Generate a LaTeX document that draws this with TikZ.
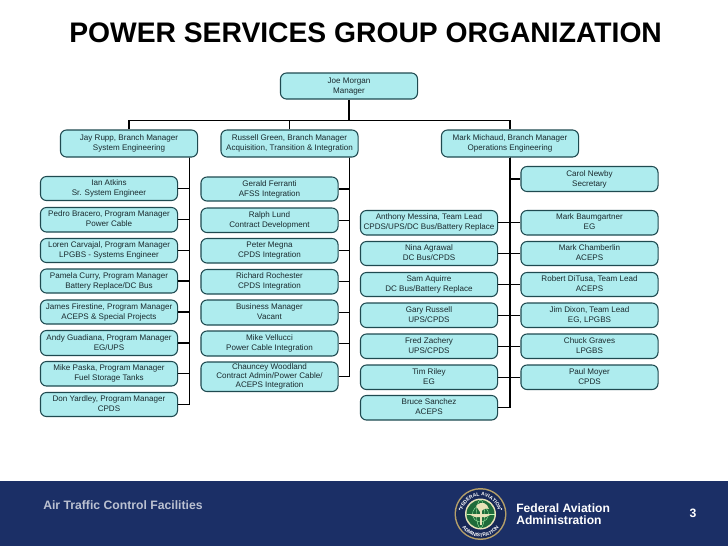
\documentclass[tikz,border=0pt]{standalone}
\usepackage{fontspec}
\setmainfont{Liberation Sans}
\usetikzlibrary{decorations.text}
\definecolor{boxfill}{HTML}{AEECEE}
\definecolor{boxedge}{HTML}{1F4A50}
\definecolor{navy}{HTML}{1B2F66}
\definecolor{inktext}{HTML}{1A2A2E}
\definecolor{sealgold}{HTML}{B5A06A}
\definecolor{sealgreen}{HTML}{1F6B3A}
\definecolor{sealpale}{HTML}{E8E2B8}
\tikzset{
  x=0.75pt,y=-0.75pt,
  orgbox/.style={draw=boxedge,fill=boxfill,line width=0.8pt,rounded corners=4.5pt,
    minimum width=102.8pt,inner sep=0pt,align=center,text=inktext,
    font=\fontsize{6.05}{7.5}\selectfont},
  link/.style={draw=black,line width=0.95pt},
  foot/.style={font=\bfseries\fontsize{9.15}{9}\selectfont,text=white,align=left,anchor=west,inner sep=0pt},
}
% \obox{name}{center x}{top y}{bottom y}{text}
\newcommand{\obox}[5]{\node[orgbox,minimum height={(#4-#3)*0.75pt}] (#1) at (#2,{(#3+#4)/2}) {\raisebox{-0.4pt}{\begin{tabular}{@{}c@{}}#5\end{tabular}}};}
\renewcommand{\arraystretch}{1}
\begin{document}
\begin{tikzpicture}
\useasboundingbox (0,0) rectangle (728,546);
\fill[white] (0,0) rectangle (728,546);
\fill[navy] (0,481) rectangle (728,546);
\node[inner sep=0pt,font=\bfseries\fontsize{21.2}{23}\selectfont,text=black,anchor=west] (title) at (69,33) {POWER SERVICES GROUP ORGANIZATION};

\coordinate (spa) at (189.5,0);
\coordinate (spb) at (349.5,0);
\coordinate (spc) at (510,0);
\coordinate (bus) at (0,120.5);

\obox{joe}{349}{73}{99}{Joe Morgan\\Manager}
\obox{jay}{129}{130}{157}{Jay Rupp, Branch Manager\\System Engineering}
\obox{russell}{289.5}{130}{157}{Russell Green, Branch Manager\\Acquisition, Transition \& Integration}
\obox{mark}{510}{130}{157}{Mark Michaud, Branch Manager\\Operations Engineering}

\obox{ian}{109}{176.5}{200.5}{Ian Atkins\\Sr. System Engineer}
\obox{pedro}{109}{207.5}{232}{Pedro Bracero, Program Manager\\Power Cable}
\obox{loren}{109}{238.5}{262.5}{Loren Carvajal, Program Manager\\LPGBS - Systems Engineer}
\obox{pamela}{109}{269}{293}{Pamela Curry, Program Manager\\Battery Replace/DC Bus}
\obox{james}{109}{300}{324}{James Firestine, Program Manager\\ACEPS \& Special Projects}
\obox{andy}{109}{330.5}{355.5}{Andy Guadiana, Program Manager\\EG/UPS}
\obox{paska}{109}{361.5}{386}{Mike Paska, Program Manager\\Fuel Storage Tanks}
\obox{don}{109}{392.5}{416.5}{Don Yardley, Program Manager\\CPDS}

\obox{gerald}{269.5}{177}{201}{Gerald Ferranti\\AFSS Integration}
\obox{ralph}{269.5}{208}{232.5}{Ralph Lund\\Contract Development}
\obox{peter}{269.5}{238.5}{263}{Peter Megna\\CPDS Integration}
\obox{richard}{269.5}{269.5}{294}{Richard Rochester\\CPDS Integration}
\obox{business}{269.5}{300}{325}{Business Manager\\Vacant}
\obox{vellucci}{269.5}{331}{356}{Mike Vellucci\\Power Cable Integration}
\obox{chauncey}{269.5}{362}{391.5}{Chauncey Woodland\\[-0.75pt]Contract Admin/Power Cable/\\[-0.75pt]ACEPS Integration}

\obox{anthony}{429}{210.5}{235}{Anthony Messina, Team Lead\\CPDS/UPS/DC Bus/Battery Replace}
\obox{nina}{429}{241.5}{265.5}{Nina Agrawal\\DC Bus/CPDS}
\obox{sam}{429}{272.5}{296.5}{Sam Aquirre\\DC Bus/Battery Replace}
\obox{gary}{429}{303}{327.5}{Gary Russell\\UPS/CPDS}
\obox{fred}{429}{334}{358.5}{Fred Zachery\\UPS/CPDS}
\obox{tim}{429}{365}{389.5}{Tim Riley\\EG}
\obox{bruce}{429}{395.5}{420}{Bruce Sanchez\\ACEPS}

\obox{carol}{589.5}{166.5}{191.5}{Carol Newby\\Secretary}
\obox{baum}{589.5}{210.5}{235}{Mark Baumgartner\\EG}
\obox{chamberlin}{589.5}{241.5}{265.5}{Mark Chamberlin\\ACEPS}
\obox{robert}{589.5}{272.5}{296.5}{Robert DiTusa, Team Lead\\ACEPS}
\obox{jim}{589.5}{303}{327.5}{Jim Dixon, Team Lead\\EG, LPGBS}
\obox{chuck}{589.5}{334}{358.5}{Chuck Graves\\LPGBS}
\obox{paul}{589.5}{365}{389.5}{Paul Moyer\\CPDS}

\draw[link] (joe.south) -- (joe.south |- bus);
\draw[link] (jay.north) |- (bus -| mark.north) -- (mark.north);
\draw[link] (russell.north) -- (russell.north |- bus);
\foreach \n in {ian,pedro,loren,pamela,james,andy,paska,don}
  \draw[link] (spa |- jay.south) |- (\n.east);
\foreach \n in {gerald,ralph,peter,richard,business,vellucci,chauncey}
  \draw[link] (spb |- russell.south) |- (\n.east);
\foreach \n in {anthony,nina,sam,gary,fred,tim,bruce}
  \draw[link] (spc |- mark.south) |- (\n.east);
\foreach \n in {carol,baum,chamberlin,robert,jim,chuck,paul}
  \draw[link] (spc |- mark.south) |- (\n.west);

\node[foot,text=white!70!navy] (area) at (43,505) {Air Traffic Control Facilities};
\node[foot,font=\bfseries\fontsize{9.07}{9}\selectfont] (faa) at (516,514) {Federal Aviation\\Administration};
\node[foot,anchor=center] (page) at (693,513) {3};

% FAA seal
\coordinate (seal) at (480.5,514);
\fill[sealgold] (seal) circle (26);
\fill[navy!85!black] (seal) circle (24.5);
\fill[sealpale] (seal) circle (15.5);
\fill[sealgreen] (seal) circle (14);
\draw[white!70!green,line width=0.25pt] (seal) circle (8);
\draw[white!70!green,line width=0.25pt] (seal) ellipse (4 and 14);
\draw[white!70!green,line width=0.25pt] (466.5,514) -- (494.5,514);
\fill[sealpale] (479.5,503) -- (482,503) -- (482,525) -- (479.5,525) -- cycle;
\fill[sealpale] (468,514) -- (492,514) -- (486,517) -- (475,517) -- cycle;
\fill[sealpale] (476,506) .. controls (482,500) and (487,503) .. (489,509) .. controls (485,507) and (482,511) .. (480,512) -- cycle;
\fill[white] (459.5,509) circle (0.9) (501.5,509) circle (0.9);
\path[decorate,decoration={text along path,text align=center,
   text={|\bfseries\fontsize{3.7}{4}\selectfont\color{white}|FEDERAL AVIATION}}]
   (462.5,514) arc[start angle=180,end angle=360,radius=18];
\path[decorate,decoration={text along path,text align=center,
   text={|\bfseries\fontsize{3.7}{4}\selectfont\color{white}|ADMINISTRATION}}]
   (457.5,514) arc[start angle=180,end angle=0,radius=23];
\end{tikzpicture}
\end{document}
